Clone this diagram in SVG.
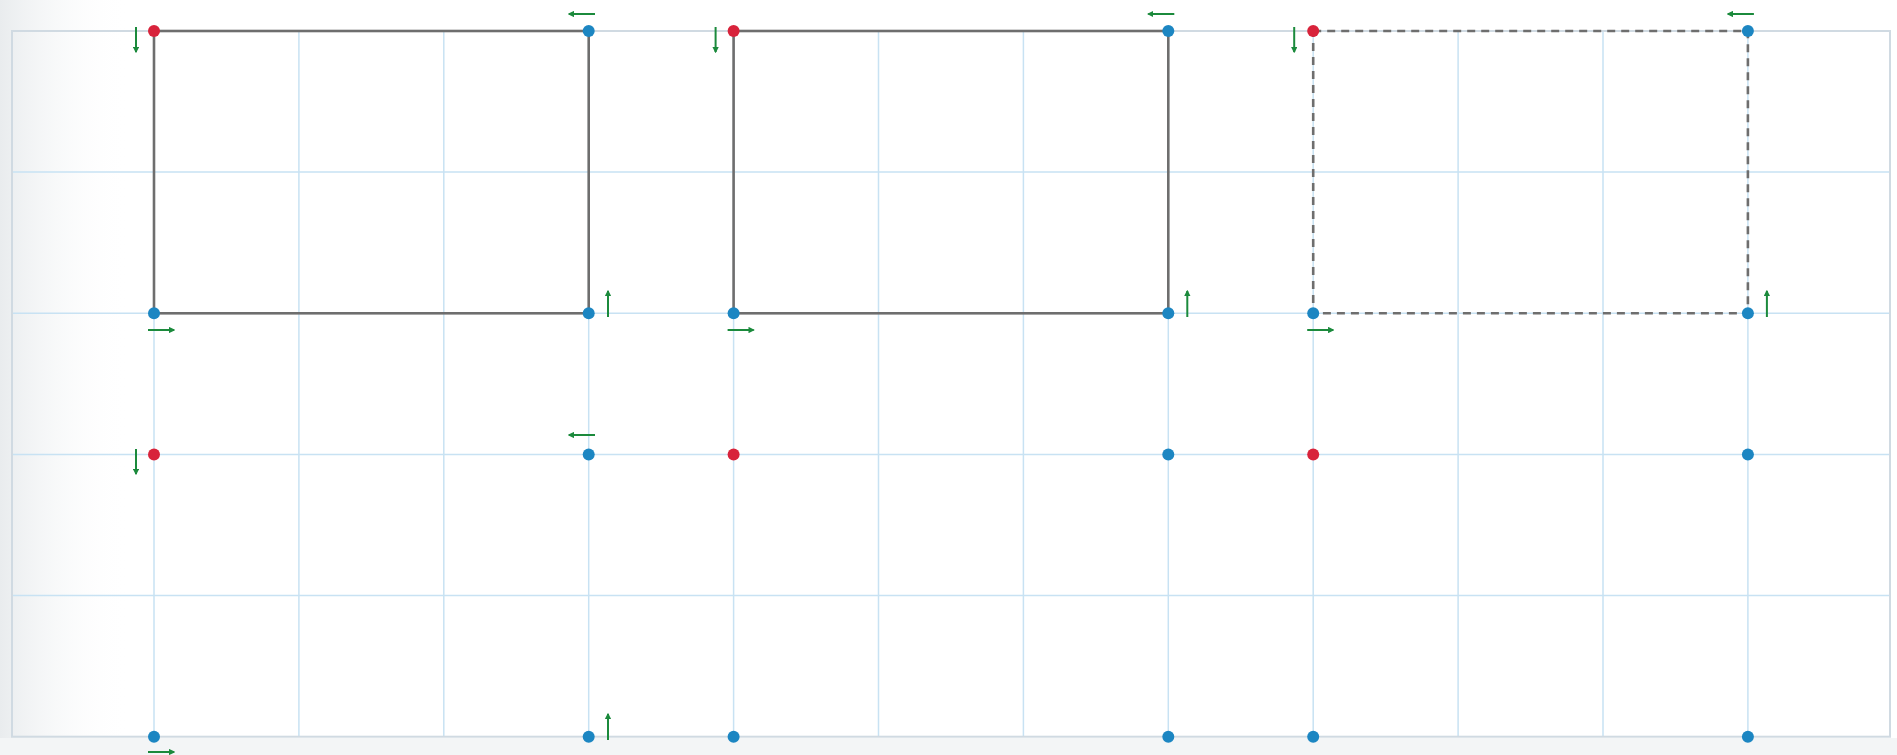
<svg xmlns="http://www.w3.org/2000/svg" width="1897" height="755" viewBox="0 0 1897 755">
<style>
.g{stroke:#c8e2f3;stroke-width:1.5;fill:none}
.b{stroke:#d0dae2;stroke-width:2;fill:none}
.r{fill:none;stroke:#6e6e6e;stroke-width:2.6}
.d{stroke-dasharray:8 6}
.red{fill:#d8233b}
.blu{fill:#1c86c2}
.a{stroke:#1b8a3c;stroke-width:2;fill:none;marker-end:url(#ah)}
</style>
<defs>
<marker id="ah" viewBox="0 0 10 10" refX="8" refY="5" markerWidth="3.2" markerHeight="3.2" orient="auto" markerUnits="strokeWidth">
<path d="M0,0 L10,5 L0,10 z" fill="#1b8a3c"/>
</marker>
<linearGradient id="lg" x1="0" y1="0" x2="1" y2="0">
<stop offset="0" stop-color="#e9ecee" stop-opacity="1"/>
<stop offset="1" stop-color="#ffffff" stop-opacity="0"/>
</linearGradient>
</defs>
<rect x="0" y="0" width="1897" height="755" fill="#ffffff"/>
<rect x="0" y="0" width="130" height="755" fill="url(#lg)"/>
<rect x="0" y="738" width="1897" height="17" fill="#f3f5f6"/>
<g id="grid">
<path class="g" d="M154,31V737M298.9,31V737M443.8,31V737M588.7,31V737M733.6,31V737M878.5,31V737M1023.4,31V737M1168.3,31V737M1313.2,31V737M1458.1,31V737M1603,31V737M1747.9,31V737"/>
<path class="g" d="M12,172.1H1890M12,313.3H1890M12,454.4H1890M12,595.6H1890"/>
<rect class="b" x="12" y="31" width="1878" height="705.7"/>
</g>
<g id="connectors">
<rect class="r" x="154" y="31" width="434.7" height="282.3"/>
<rect class="r" x="733.6" y="31" width="434.7" height="282.3"/>
<rect class="r d" x="1313.2" y="31" width="434.7" height="282.3"/>
<line class="a" x1="136" y1="27" x2="136" y2="52"/>
<line class="a" x1="595" y1="14" x2="569" y2="14"/>
<line class="a" x1="148" y1="330" x2="174" y2="330"/>
<line class="a" x1="608" y1="317" x2="608" y2="291"/>
<line class="a" x1="715.6" y1="27" x2="715.6" y2="52"/>
<line class="a" x1="1174.3" y1="14" x2="1148.3" y2="14"/>
<line class="a" x1="727.6" y1="330" x2="753.6" y2="330"/>
<line class="a" x1="1187.3" y1="317" x2="1187.3" y2="291"/>
<line class="a" x1="1294.2" y1="27" x2="1294.2" y2="52"/>
<line class="a" x1="1753.9" y1="14" x2="1727.9" y2="14"/>
<line class="a" x1="1307.2" y1="330" x2="1333.2" y2="330"/>
<line class="a" x1="1766.9" y1="317" x2="1766.9" y2="291"/>
<line class="a" x1="136" y1="449" x2="136" y2="474"/>
<line class="a" x1="595" y1="435" x2="569" y2="435"/>
<line class="a" x1="148" y1="752" x2="174" y2="752"/>
<line class="a" x1="608" y1="740" x2="608" y2="714"/>
</g>
<g id="panel1">
<circle class="red" cx="154" cy="31" r="6"/>
<circle class="blu" cx="588.7" cy="31" r="6"/>
<circle class="blu" cx="154" cy="313.3" r="6"/>
<circle class="blu" cx="588.7" cy="313.3" r="6"/>
</g>
<g id="panel2">
<circle class="red" cx="733.6" cy="31" r="6"/>
<circle class="blu" cx="1168.3" cy="31" r="6"/>
<circle class="blu" cx="733.6" cy="313.3" r="6"/>
<circle class="blu" cx="1168.3" cy="313.3" r="6"/>
</g>
<g id="panel3">
<circle class="red" cx="1313.2" cy="31" r="6"/>
<circle class="blu" cx="1747.9" cy="31" r="6"/>
<circle class="blu" cx="1313.2" cy="313.3" r="6"/>
<circle class="blu" cx="1747.9" cy="313.3" r="6"/>
</g>
<g id="points1">
<circle class="red" cx="154" cy="454.4" r="6"/>
<circle class="blu" cx="588.7" cy="454.4" r="6"/>
<circle class="blu" cx="154" cy="736.7" r="6"/>
<circle class="blu" cx="588.7" cy="736.7" r="6"/>
</g>
<g id="points2">
<circle class="red" cx="733.6" cy="454.4" r="6"/>
<circle class="blu" cx="1168.3" cy="454.4" r="6"/>
<circle class="blu" cx="733.6" cy="736.7" r="6"/>
<circle class="blu" cx="1168.3" cy="736.7" r="6"/>
</g>
<g id="points3">
<circle class="red" cx="1313.2" cy="454.4" r="6"/>
<circle class="blu" cx="1747.9" cy="454.4" r="6"/>
<circle class="blu" cx="1313.2" cy="736.7" r="6"/>
<circle class="blu" cx="1747.9" cy="736.7" r="6"/>
</g>
</svg>
